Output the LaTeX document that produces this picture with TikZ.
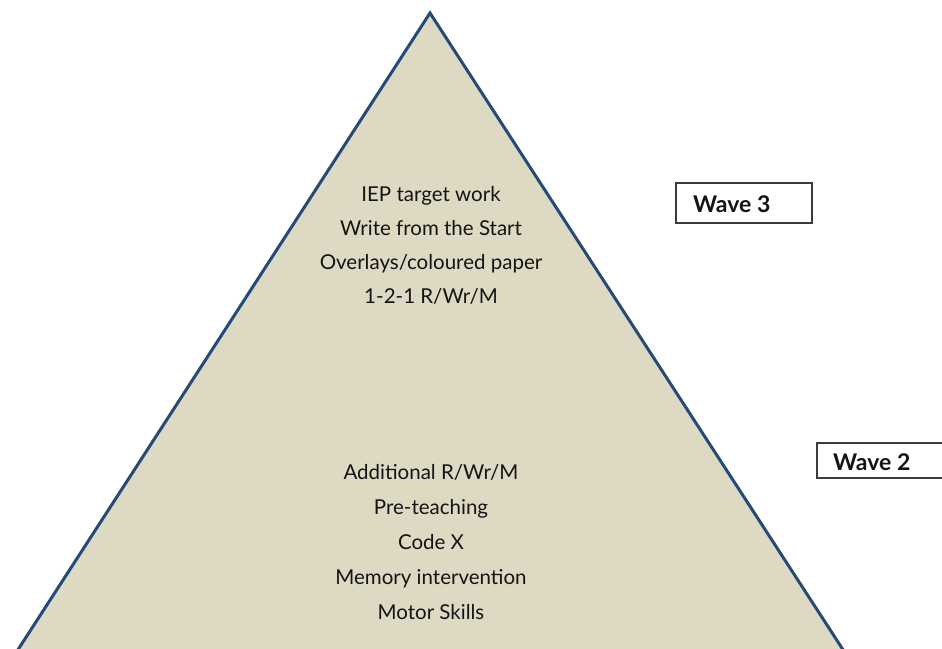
\documentclass[tikz,border=0pt]{standalone}
\usepackage{fontspec}
\setmainfont{Lato}
\definecolor{pyrfill}{HTML}{DDD9C3}
\definecolor{pyredge}{HTML}{254A75}
\definecolor{txt}{HTML}{141414}
\definecolor{boxedge}{HTML}{3C3C3C}
\begin{document}
\begin{tikzpicture}[x=1pt,y=-1pt,
  items/.style={align=center,text=txt,font=\fontsize{20.5}{34}\selectfont,inner sep=0pt},
  lowitems/.style={items,font=\fontsize{20.5}{35}\selectfont},
  wavelabel/.style={text=txt,font=\fontsize{23}{26}\selectfont\bfseries,inner sep=0pt,anchor=west}]
\useasboundingbox (0,0) rectangle (942,648);
\clip (0,0) rectangle (942,648);
\coordinate (apex) at (430,13);
\coordinate (bl2) at (10,662);
\coordinate (br2) at (851,662);
\fill[pyrfill] (bl2) -- (apex) -- (br2) -- cycle;
\draw[pyredge,line width=3pt,line join=miter] (bl2) -- (apex) -- (br2);
\node[items] (upper) at (431,245) {IEP target work\\Write from the Start\\Overlays/coloured paper\\1-2-1 R/Wr/M};
\node[lowitems] (lower) at (431,542) {Additional R/Wr/M\\Pre-teaching\\Code X\\Memory intervention\\Motor Skills};
\draw[boxedge,line width=1.5pt,fill=white] (676,183) rectangle (812,223);
\node[wavelabel] (w3) at (693,204) {Wave 3};
\draw[boxedge,line width=1.5pt,fill=white] (817,443) rectangle (960,478);
\node[wavelabel] (w2) at (833,462) {Wave 2};
\end{tikzpicture}
\end{document}
